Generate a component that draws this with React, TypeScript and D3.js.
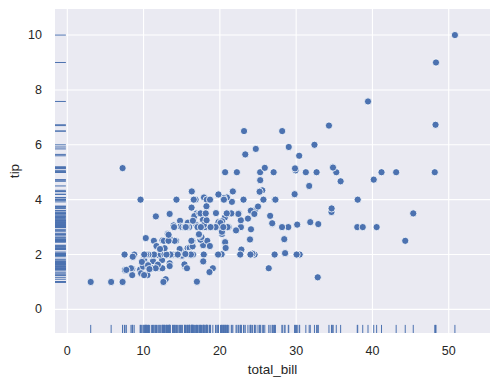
import * as d3 from 'd3';

// seaborn "tips" dataset: total_bill and tip per row
const totalBill = [
  16.99, 10.34, 21.01, 23.68, 24.59, 25.29, 8.77, 26.88, 15.04, 14.78, 10.27, 35.26, 15.42, 18.43, 14.83, 21.58,
  10.33, 16.29, 16.97, 20.65, 17.92, 20.29, 15.77, 39.42, 19.82, 17.81, 13.37, 12.69, 21.7, 19.65, 9.55, 18.35,
  15.06, 20.69, 17.78, 24.06, 16.31, 16.93, 18.69, 31.27, 16.04, 17.46, 13.94, 9.68, 30.4, 18.29, 22.23, 32.4,
  28.55, 18.04, 12.54, 10.29, 34.81, 9.94, 25.56, 19.49, 38.01, 26.41, 11.24, 48.27, 20.29, 13.81, 11.02, 18.29,
  17.59, 20.08, 16.45, 3.07, 20.23, 15.01, 12.02, 17.07, 26.86, 25.28, 14.73, 10.51, 17.92, 27.2, 22.76, 17.29,
  19.44, 16.66, 10.07, 32.68, 15.98, 34.83, 13.03, 18.28, 24.71, 21.16, 28.97, 22.49, 5.75, 16.32, 22.75, 40.17,
  27.28, 12.03, 21.01, 12.46, 11.35, 15.38, 44.3, 22.42, 20.92, 15.36, 20.49, 25.21, 18.24, 14.31, 14.0, 7.25,
  38.07, 23.95, 25.71, 17.31, 29.93, 10.65, 12.43, 24.08, 11.69, 13.42, 14.26, 15.95, 12.48, 29.8, 8.52, 14.52,
  11.38, 22.82, 19.08, 20.27, 11.17, 12.26, 18.26, 8.51, 10.33, 14.15, 16.0, 13.16, 17.47, 34.3, 41.19, 27.05,
  16.43, 8.35, 18.64, 11.87, 9.78, 7.51, 14.07, 13.13, 17.26, 24.55, 19.77, 29.85, 48.17, 25.0, 13.39, 16.49,
  21.5, 12.66, 16.21, 13.81, 17.51, 24.52, 20.76, 31.71, 10.59, 10.63, 50.81, 15.81, 7.25, 31.85, 16.82, 32.9,
  17.89, 14.48, 9.6, 34.63, 34.65, 23.33, 45.35, 23.17, 40.55, 20.69, 20.9, 30.46, 18.15, 23.1, 15.69, 19.81,
  28.44, 15.48, 16.58, 7.56, 10.34, 43.11, 13.0, 13.51, 18.71, 12.74, 13.0, 16.4, 20.53, 16.47, 26.59, 38.73,
  24.27, 12.76, 30.06, 25.89, 48.33, 13.27, 28.17, 12.9, 28.15, 11.59, 7.74, 30.14, 12.16, 13.42, 8.58, 15.98,
  13.42, 16.27, 10.09, 20.45, 13.28, 22.12, 24.01, 15.69, 11.61, 10.77, 15.53, 10.07, 12.6, 32.83, 35.83, 29.03,
  27.18, 22.67, 17.82, 18.78,
];
const tip = [
  1.01, 1.66, 3.5, 3.31, 3.61, 4.71, 2.0, 3.12, 1.96, 3.23, 1.71, 5.0, 1.57, 3.0, 3.02, 3.92,
  1.67, 3.71, 3.5, 3.35, 4.08, 2.75, 2.23, 7.58, 3.18, 2.34, 2.0, 2.0, 4.3, 3.0, 1.45, 2.5,
  3.0, 2.45, 3.27, 3.6, 2.0, 3.07, 2.31, 5.0, 2.24, 2.54, 3.06, 1.32, 5.6, 3.0, 5.0, 6.0,
  2.05, 3.0, 2.5, 2.6, 5.2, 1.56, 4.34, 3.51, 3.0, 1.5, 1.76, 6.73, 3.21, 2.0, 1.98, 3.76,
  2.64, 3.15, 2.47, 1.0, 2.01, 2.09, 1.97, 3.0, 3.14, 5.0, 2.2, 1.25, 3.08, 4.0, 3.0, 2.71,
  3.0, 3.4, 1.83, 5.0, 2.03, 5.17, 2.0, 4.0, 5.85, 3.0, 3.0, 3.5, 1.0, 4.3, 3.25, 4.73,
  4.0, 1.5, 3.0, 1.5, 2.5, 3.0, 2.5, 3.48, 4.08, 1.64, 4.06, 4.29, 3.76, 4.0, 3.0, 1.0,
  4.0, 2.55, 4.0, 3.5, 5.07, 1.5, 1.8, 2.92, 2.31, 1.68, 2.5, 2.0, 2.52, 4.2, 1.48, 2.0,
  2.0, 2.18, 1.5, 2.83, 1.5, 2.0, 3.25, 1.25, 2.0, 2.0, 2.0, 2.75, 3.5, 6.7, 5.0, 5.0,
  2.3, 1.5, 1.36, 1.63, 1.73, 2.0, 2.5, 2.0, 2.74, 2.0, 2.0, 5.14, 5.0, 3.75, 2.61, 2.0,
  3.5, 2.5, 2.0, 2.0, 3.0, 3.48, 2.24, 4.5, 1.61, 2.0, 10.0, 3.16, 5.15, 3.18, 4.0, 3.11,
  2.0, 2.0, 4.0, 3.55, 3.68, 5.65, 3.5, 6.5, 3.0, 5.0, 3.5, 2.0, 3.5, 4.0, 1.5, 4.19,
  2.56, 2.02, 4.0, 1.44, 2.0, 5.0, 2.0, 2.0, 4.0, 2.01, 2.0, 2.5, 4.0, 3.23, 3.41, 3.0,
  2.03, 2.23, 2.0, 5.16, 9.0, 2.5, 6.5, 1.1, 3.0, 1.5, 1.44, 3.09, 2.2, 3.48, 1.92, 3.0,
  1.58, 2.5, 2.0, 3.0, 2.72, 2.88, 2.0, 3.0, 3.39, 1.47, 3.0, 1.25, 1.0, 1.17, 4.67, 5.92,
  2.0, 2.0, 1.75, 3.0,
];
const xTicks = [0, 10, 20, 30, 40, 50];
const yTicks = [0, 2, 4, 6, 8, 10];

const W = 499;
const H = 385;
const plot = { left: 55, right: 490, top: 9, bottom: 333 };
const blue = '#4C72B0';
const textColor = '#262626';
const font = 'Arial, "Liberation Sans", sans-serif';

export default function App() {
  const x = d3.scaleLinear().domain([-1.61, 55.41]).range([plot.left, plot.right]);
  const y = d3.scaleLinear().domain([-0.86, 10.95]).range([plot.bottom, plot.top]);
  const rugX = (plot.bottom - plot.top) * 0.025;
  const rugY = (plot.right - plot.left) * 0.025;

  return (
    <svg width={W} height={H} style={{ position: 'absolute', left: 0, top: 0 }}>
      <rect x={0} y={0} width={W} height={H} fill="#fff" />
      <rect
        x={plot.left}
        y={plot.top}
        width={plot.right - plot.left}
        height={plot.bottom - plot.top}
        fill="#EAEAF2"
      />
      {xTicks.map(t => (
        <line key={'gx' + t} x1={x(t)} x2={x(t)} y1={plot.top} y2={plot.bottom} stroke="#fff" strokeWidth={1.1} />
      ))}
      {yTicks.map(t => (
        <line key={'gy' + t} x1={plot.left} x2={plot.right} y1={y(t)} y2={y(t)} stroke="#fff" strokeWidth={1.1} />
      ))}

      {/* rugs */}
      {totalBill.map((v, i) => (
        <line key={'rx' + i} x1={x(v)} x2={x(v)} y1={plot.bottom} y2={plot.bottom - rugX} stroke={blue} strokeWidth={1} />
      ))}
      {tip.map((v, i) => (
        <line key={'ry' + i} x1={plot.left} x2={plot.left + rugY} y1={y(v)} y2={y(v)} stroke={blue} strokeWidth={1} />
      ))}

      {totalBill.map((v, i) => (
        <circle key={'p' + i} cx={x(v)} cy={y(tip[i])} r={3.6} fill={blue} stroke="#fff" strokeWidth={0.8} />
      ))}

      {xTicks.map(t => (
        <text key={'tx' + t} x={x(t)} y={351} textAnchor="middle" dominantBaseline="central" fontSize={12.5} fontFamily={font} fill={textColor}>
          {t}
        </text>
      ))}
      {yTicks.map(t => (
        <text key={'ty' + t} x={42} y={y(t)} textAnchor="end" dominantBaseline="central" fontSize={12.5} fontFamily={font} fill={textColor}>
          {t}
        </text>
      ))}
      <text x={(plot.left + plot.right) / 2} y={369} textAnchor="middle" dominantBaseline="central" fontSize={13.5} fontFamily={font} fill={textColor}>
        total_bill
      </text>
      <text
        transform={`translate(14,${(plot.top + plot.bottom) / 2}) rotate(-90)`}
        textAnchor="middle"
        dominantBaseline="central"
        fontSize={13.5}
        fontFamily={font}
        fill={textColor}
      >
        tip
      </text>
    </svg>
  );
}
